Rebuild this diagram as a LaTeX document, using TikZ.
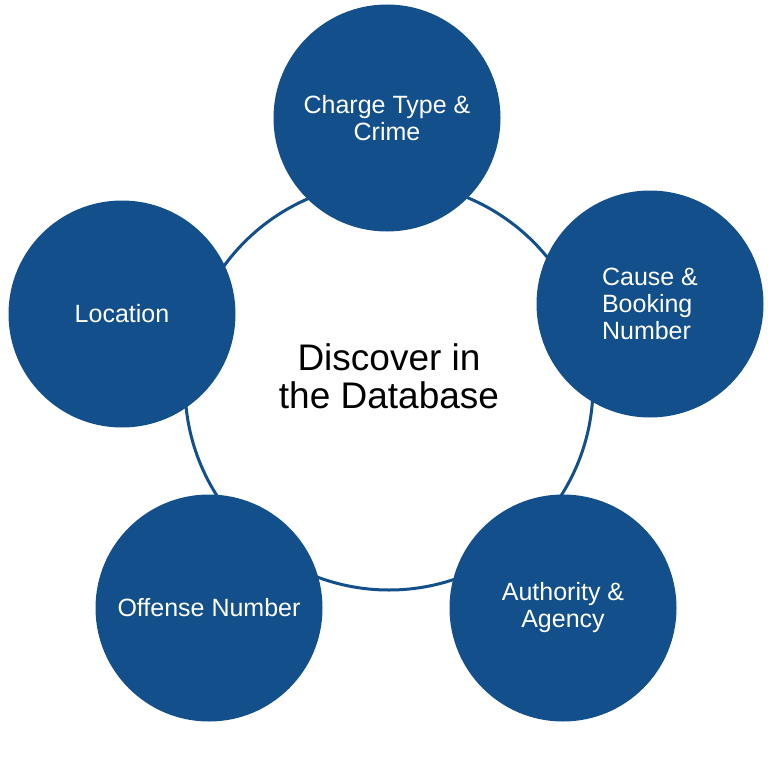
\documentclass[tikz,border=0pt]{standalone}
\usepackage{fontspec}
\setmainfont{Liberation Sans}
\definecolor{navy}{RGB}{18,79,139}
\tikzset{
  topic/.style={circle, fill=navy, minimum size=227pt, inner sep=0pt,
    text=white, align=center, font=\fontsize{25}{27}\selectfont},
}
\begin{document}
\begin{tikzpicture}[x=1pt, y=-1pt]
    \useasboundingbox (0,0) rectangle (768,768);
    % ring behind the five topics
    \node[circle, draw=navy, line width=3pt, minimum size=408pt, inner sep=0pt] (hub) at (389,386) {};
    \node[font=\fontsize{37}{38}\selectfont, align=center] (title) at (389,376) {Discover in\\the Database};
    % topics round the ring
    \node[topic] (charge) at (387,118) {Charge Type \&\\Crime};
    \node[topic, align=left] (cause) at (650,304) {Cause \&\\Booking\\Number};
    \node[topic] (authority) at (563,608) {Authority \&\\Agency};
    \node[topic] (offense) at (209,608) {Offense Number};
    \node[topic] (location) at (122,314) {Location};
\end{tikzpicture}
\end{document}
